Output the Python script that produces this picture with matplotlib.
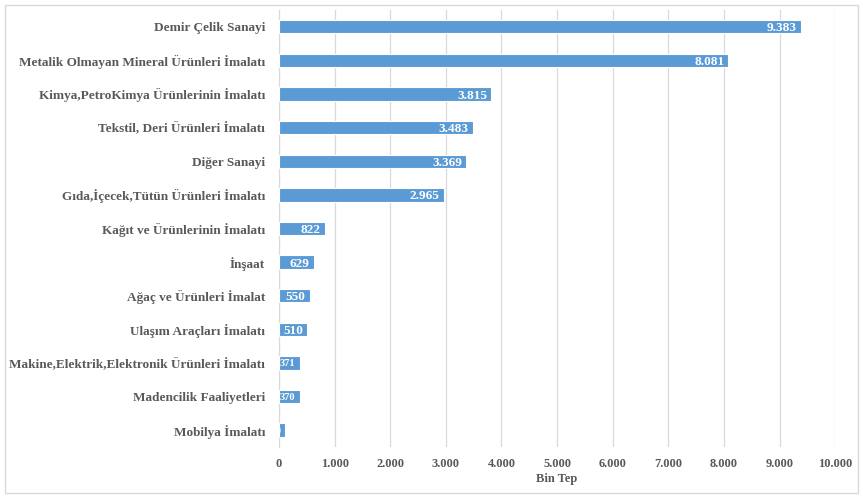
import matplotlib.pyplot as plt
from matplotlib.patches import Rectangle
from matplotlib.ticker import FuncFormatter

categories = [
    "Demir Çelik Sanayi",
    "Metalik Olmayan Mineral Ürünleri İmalatı",
    "Kimya,PetroKimya Ürünlerinin İmalatı",
    "Tekstil, Deri Ürünleri İmalatı",
    "Diğer Sanayi",
    "Gıda,İçecek,Tütün Ürünleri İmalatı",
    "Kağıt ve Ürünlerinin İmalatı",
    "İnşaat",
    "Ağaç ve Ürünleri İmalat",
    "Ulaşım Araçları İmalatı",
    "Makine,Elektrik,Elektronik Ürünleri İmalatı",
    "Madencilik Faaliyetleri",
    "Mobilya İmalatı",
]
values = [9383, 8081, 3815, 3483, 3369, 2965, 822, 629, 550, 510, 371, 370, 110]
xticks = list(range(0, 10001, 1000))

plt.rcParams["font.family"] = ["Liberation Serif", "DejaVu Serif"]
TEXT = "#595959"
BAR = "#5B9BD5"

fig = plt.figure(figsize=(8.63, 4.98), dpi=100)
fig.patches.append(Rectangle((0.006, 0.01), 0.988, 0.98, transform=fig.transFigure,
                             fill=False, edgecolor="#D9D9D9", linewidth=1))
ax = fig.add_axes([0.3233, 0.1024, 0.6444, 0.8776])

y = list(range(len(categories)))
ax.barh(y, values, height=0.4, color=BAR, edgecolor="white", linewidth=0.8, zorder=3)

for yi, v in zip(y, values):
    lab = f"{v:,}".replace(",", ".")
    fs = 9.5 if v >= 500 else 7.5
    ax.annotate(lab, (v, yi), xytext=(-3, 0), textcoords="offset points",
                ha="right", va="center_baseline", color="white", fontsize=fs,
                fontweight="bold", zorder=4)

ax.set_ylim(len(categories) - 0.5, -0.5)
ax.set_xlim(0, 10000)
ax.set_yticks(y, categories)
ax.set_xticks(xticks)
ax.xaxis.set_major_formatter(FuncFormatter(lambda v, p: f"{int(v):,}".replace(",", ".")))
ax.grid(axis="x", color="#D9D9D9", linewidth=0.9, zorder=0)
ax.tick_params(axis="y", length=0, pad=10, labelsize=9.5, labelcolor=TEXT)
ax.tick_params(axis="x", length=0, pad=8, labelsize=9, labelcolor=TEXT)
for lab in ax.get_yticklabels() + ax.get_xticklabels():
    lab.set_fontweight("bold")
for s in ["top", "right", "bottom"]:
    ax.spines[s].set_visible(False)
ax.spines["left"].set_color("#D9D9D9")
ax.set_xlabel("Bin Tep", fontsize=9, fontweight="bold", color=TEXT, labelpad=2)

fig.savefig("out.png", dpi=100)
